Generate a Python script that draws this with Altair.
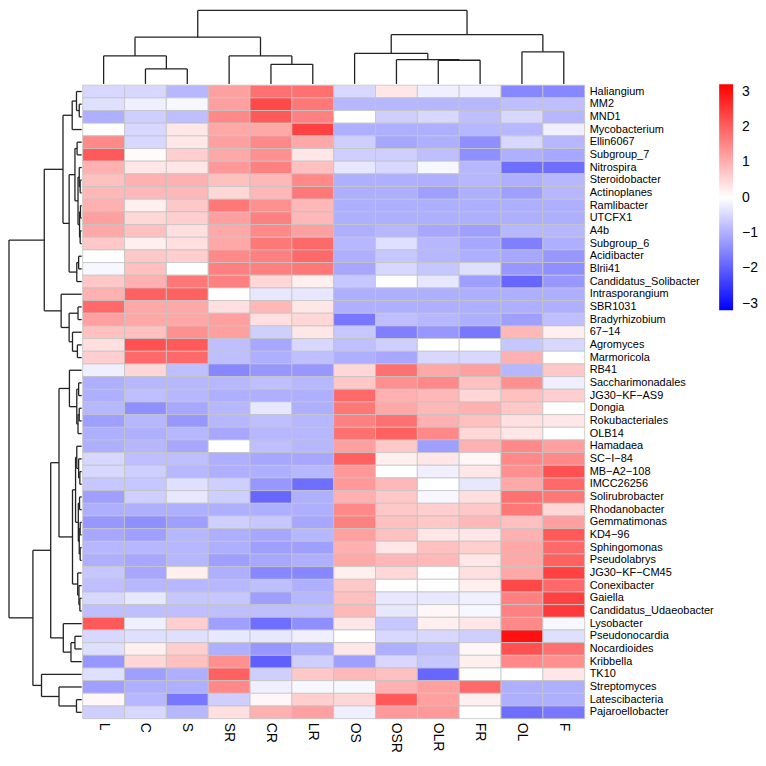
import altair as alt
import pandas as pd

columns = ["L", "C", "S", "SR", "CR", "LR", "OS", "OSR", "OLR", "FR", "OL", "F"]
genera = ["Haliangium", "MM2", "MND1", "Mycobacterium", "Ellin6067", "Subgroup_7",
          "Nitrospira", "Steroidobacter", "Actinoplanes", "Ramlibacter", "UTCFX1", "A4b",
          "Subgroup_6", "Acidibacter", "Blrii41", "Candidatus_Solibacter", "Intrasporangium",
          "SBR1031", "Bradyrhizobium", "67\u221214", "Agromyces", "Marmoricola", "RB41",
          "Saccharimonadales", "JG30\u2212KF\u2212AS9", "Dongia", "Rokubacteriales", "OLB14",
          "Hamadaea", "SC\u2212I\u221284", "MB\u2212A2\u2212108", "IMCC26256", "Solirubrobacter",
          "Rhodanobacter", "Gemmatimonas", "KD4\u221296", "Sphingomonas", "Pseudolabrys",
          "JG30\u2212KF\u2212CM45", "Conexibacter", "Gaiella", "Candidatus_Udaeobacter",
          "Lysobacter", "Pseudonocardia", "Nocardioides", "Kribbella", "TK10", "Streptomyces",
          "Latescibacteria", "Pajaroellobacter"]

# z-scores per genus, one list per sample column (rows in genera order)
z_L = [-0.5, -0.4, -1.0, 0.0, 1.5, 2.1, 1.0, 0.8, 0.9, 1.0, 1.2, 1.1, 0.7, 0.0, -0.1, 0.7,
       1.0, 1.9, 1.2, 0.8, 0.4, 0.6, -0.2, -1.0, -1.0, -0.9, -1.2, -1.0, -1.0, -0.5, -0.5,
       -0.7, -1.2, -1.0, -1.3, -1.1, -0.9, -1.0, -0.7, -0.8, -0.5, -0.8, 2.1, -0.5, -0.4,
       -1.3, -0.4, -1.2, 0.1, -0.6]
z_C = [-0.5, -0.2, -0.6, -0.5, -0.5, 0.05, 0.3, 1.0, 0.9, 0.2, 0.5, 0.8, 0.2, 0.7, 0.8, 1.0,
       2.0, 1.1, 1.1, 0.8, 2.2, 1.9, 0.5, -0.9, -0.8, -1.4, -0.9, -1.0, -0.9, -0.8, -0.6,
       -0.7, -0.6, -1.0, -1.4, -1.2, -0.9, -1.1, -1.1, -0.9, -0.3, -0.8, -0.2, -0.4, 0.2,
       0.5, -1.2, -1.0, -0.9, -0.5]
z_S = [-0.9, -0.1, -0.8, 0.3, 0.3, 0.6, 0.3, 1.0, 0.9, 0.7, 0.6, 0.4, 0.4, 0.6, 0.0, 1.7,
       2.0, 1.1, 1.1, 1.4, 2.1, 1.9, -0.8, -0.9, -0.9, -1.1, -1.3, -0.9, -1.1, -0.8, -0.9,
       -0.4, -0.3, -1.0, -1.2, -0.9, -0.9, -0.9, 0.2, -0.9, -0.7, -0.8, 0.6, -0.4, 0.6,
       0.8, -1.0, -1.0, -1.7, -0.9]
z_SR = [1.2, 1.2, 1.5, 1.1, 1.2, 1.1, 1.3, 0.8, 0.5, 1.7, 1.2, 1.1, 1.1, 1.5, 1.6, 1.6,
        0.0, 0.4, 1.2, 1.2, -0.8, -0.8, -1.5, -0.9, -1.0, -0.9, -0.9, -1.1, 0.0, -1.0, -1.0,
        -0.6, -0.6, -1.0, -0.6, -1.0, -1.0, -1.2, -1.0, -0.9, -0.7, -0.8, -1.2, -0.3, -1.0,
        1.4, 2.0, 1.5, -0.6, 0.4]
z_CR = [1.8, 2.3, 2.1, 1.1, 1.5, 1.4, 1.6, 0.9, 0.9, 1.4, 1.6, 1.5, 1.7, 1.6, 1.6, 0.5,
        -0.3, 0.9, 0.4, -0.6, -1.1, -1.0, -1.3, -0.8, -1.0, -0.3, -0.8, -0.9, -0.8, -1.1,
        -1.0, -1.3, -1.9, -1.0, -0.7, -1.1, -1.2, -1.1, -1.5, -0.8, -1.2, -0.8, -1.8, -0.3,
        -1.3, -2.0, -0.6, -0.2, 0.1, 1.0]
z_LR = [1.8, 1.7, 1.6, 2.4, 1.1, 0.3, 0.8, 1.5, 1.7, 0.9, 0.9, 1.2, 1.9, 1.9, 1.7, 0.2,
        -0.3, 0.3, 0.5, 0.3, -0.5, -0.8, -1.3, -0.9, -1.0, -1.0, -0.9, -0.9, -0.9, -1.1,
        -0.9, -1.8, -1.0, -1.0, -1.1, -0.9, -1.2, -1.0, -1.5, -1.0, -0.9, -0.8, -1.4, -0.2,
        -1.0, -0.6, 0.7, -0.1, 0.6, 1.2]
z_OS = [-0.5, -0.9, 0.0, -1.0, -0.6, -0.6, -0.3, -1.0, -1.0, -1.0, -1.0, -1.0, -0.9, -1.0,
        -1.1, -0.7, -1.0, -1.0, -1.7, -0.7, -0.8, -1.0, 0.5, 0.7, 1.9, 1.7, 1.6, 1.8, 1.2,
        2.0, 1.3, 1.3, 1.0, 1.5, 1.6, 1.2, 1.0, 1.1, 0.2, 0.7, 0.8, 0.9, 0.3, 0.0, 0.3,
        -1.2, 0.9, -0.1, 0.5, -0.2]
z_OSR = [0.3, -0.9, -0.6, -1.0, -1.1, -0.6, -0.5, -1.0, -1.0, -1.0, -1.0, -0.9, -0.4, -0.7,
         -0.5, 0.0, -1.0, -1.0, -0.8, -1.6, -0.6, -1.1, 1.8, 1.4, 1.0, 1.1, 1.8, 2.0, 0.7,
         0.2, 0.0, 0.9, 0.7, 0.7, 0.8, 0.8, 0.3, 0.9, 0.5, 0.0, -0.3, -0.3, -0.7, -0.5,
         -1.0, -0.5, 0.8, 1.0, 2.1, 1.3]
z_OLR = [-0.2, -0.9, -0.5, -1.0, -1.0, -0.8, -0.1, -1.0, -1.2, -1.0, -1.0, -1.1, -0.9, -0.9,
         -0.7, -0.3, -1.0, -1.0, -0.9, -1.3, 0.0, -0.5, 1.1, 1.5, 0.9, 0.9, 1.0, 1.5, -1.2,
         0.3, -0.2, 0.0, -0.1, 0.6, 0.7, 0.3, 0.8, 0.9, 0.0, 0.0, -0.3, 0.1, 0.2, -0.5,
         -0.8, -0.7, -1.9, 1.2, 1.2, 1.3]
z_FR = [-0.2, -0.9, -0.8, -0.9, -1.4, -1.4, -0.9, -0.9, -1.0, -1.0, -1.0, -1.2, -1.1, -1.0,
        -0.4, -1.2, -1.0, -1.0, -1.0, -1.7, 0.0, -0.5, 1.2, 0.8, 0.5, 1.0, 0.8, 0.5, 1.0,
        0.1, 0.3, -0.3, 0.4, 0.7, 0.9, 0.3, 0.6, 0.3, 0.4, 0.2, -0.2, -0.1, 0.3, -0.6, 0.1,
        0.2, 0.0, 1.9, 0.2, 0.0]
z_OL = [-1.5, -0.8, -0.5, -0.9, -0.5, -1.0, -1.8, -1.0, -1.2, -1.0, -1.0, -0.9, -1.6, -1.1,
        -1.3, -1.9, -1.0, -1.0, -1.2, 0.9, -0.7, 1.0, -0.9, 1.4, 0.8, 0.7, 0.4, 0.3, 1.5,
        1.5, 1.4, 1.1, 1.8, 1.7, 0.8, 1.0, 1.1, 1.1, 1.1, 2.3, 1.6, 1.6, 1.5, 3.0, 2.2,
        1.5, 0.0, -1.0, -1.0, -1.8]
z_F = [-1.5, -0.8, -0.9, -0.2, -0.9, -1.1, -1.8, -0.9, -0.9, -1.0, -1.0, -0.9, -1.0, -1.3,
       -1.4, -1.3, -1.0, -1.0, -0.8, 0.2, -0.5, 0.0, 0.7, -0.2, 0.6, 0.0, 0.3, 0.0, 1.2,
       1.5, 2.2, 1.9, 1.7, 0.5, 1.2, 2.1, 1.9, 2.0, 2.4, 1.9, 2.4, 2.5, -0.1, -0.4, 1.8,
       1.4, 0.3, -1.0, -1.0, -1.7]

z_cols = [z_L, z_C, z_S, z_SR, z_CR, z_LR, z_OS, z_OSR, z_OLR, z_FR, z_OL, z_F]

# dendrograms: (left, right, merge height); leaves are positions in the display order
col_tree = (((0, (1, 2, 48), 90), (3, (4, 5, 63), 90), 150),
            ((6, (7, (8, 9, 76), 78), 98), (10, 11, 103), 158), 236)

row_tree = (
    (
        (((0, (1, 2, 8), 17), 3, 31),
         (((4, 5, 15), ((6, (7, 8, 5), 8), ((9, 10, 4), (11, 12, 5), 7), 12), 22),
          ((13, 14, 10), 15, 16), 41), 61),
        (16, ((17, 18, 12), (19, (20, 21, 14), 30), 41), 67),
        122),
    (
        (((22, ((23, 24, 10), ((25, 26, 8), 27, 12), 16), 40),
          (((28, (29, (30, 31, 6), 10), 16),
            ((32, 33, 7), ((34, 35, 5), (36, 37, 5), 8), 11), 20),
           (38, (39, (40, 41, 6), 9), 13), 30), 74),
         (42, ((43, 44, 22), 45, 35), 60), 101),
        (46, (47, (48, 49, 17), 74), 131),
        159),
    237)


def layout(node):
    if isinstance(node, int):
        return node + 0.5, 0.0, []
    a, b, h = node
    pa, ha, sa = layout(a)
    pb, hb, sb = layout(b)
    segs = sa + sb + [(pa, ha, pa, h), (pb, hb, pb, h), (pa, h, pb, h)]
    return (pa + pb) / 2, h, segs


n_rows, n_cols = len(genera), len(columns)

cells = []
for ci, col in enumerate(columns):
    for ri, g in enumerate(genera):
        cells.append({"col": col, "genus": g, "x0": ci, "x1": ci + 1,
                      "y0": ri, "y1": ri + 1, "value": z_cols[ci][ri]})
cells = pd.DataFrame(cells)

_, col_root, col_segs = layout(col_tree)
top = pd.DataFrame([{"x": p1, "x2": p2, "y": -0.1 - h1 / col_root * 5.8,
                     "y2": -0.1 - h2 / col_root * 5.8} for p1, h1, p2, h2 in col_segs])
_, row_root, row_segs = layout(row_tree)
left = pd.DataFrame([{"y": p1, "y2": p2, "x": -0.024 - h1 / row_root * 1.738,
                      "x2": -0.024 - h2 / row_root * 1.738} for p1, h1, p2, h2 in row_segs])

row_lab = pd.DataFrame({"genus": genera, "y": [i + 0.5 for i in range(n_rows)],
                        "x": [n_cols] * n_rows})
col_lab = pd.DataFrame({"col": columns, "x": [i + 0.5 for i in range(n_cols)],
                        "y": [n_rows] * n_cols})

xs = alt.Scale(domain=[-75 / 42, n_cols], nice=False, zero=False)
ys = alt.Scale(domain=[-76 / 12.72, n_rows], nice=False, zero=False, reverse=True)

heat = alt.Chart(cells).mark_rect(stroke="#C4C4C4", strokeWidth=0.8).encode(
    x=alt.X("x0:Q", scale=xs, axis=None),
    x2="x1:Q",
    y=alt.Y("y0:Q", scale=ys, axis=None),
    y2="y1:Q",
    color=alt.Color("value:Q", title=None,
                    scale=alt.Scale(domain=[-3.19, 0, 3.22],
                                    range=["#0000FF", "#FFFFFF", "#FF0000"],
                                    interpolate="rgb"),
                    legend=alt.Legend(orient="none", legendX=714, legendY=75,
                                      direction="vertical", gradientLength=227,
                                      gradientThickness=14, gradientStrokeWidth=0,
                                      values=[3, 2, 1, 0, -1, -2, -3],
                                      labelFontSize=14, labelFont="Liberation Sans",
                                      labelColor="#000000", labelOffset=9)),
)

top_tree = alt.Chart(top).mark_rule(color="#222222", strokeWidth=1.3).encode(
    x=alt.X("x:Q", scale=xs, axis=None), x2="x2:Q",
    y=alt.Y("y:Q", scale=ys, axis=None), y2="y2:Q")

left_tree = alt.Chart(left).mark_rule(color="#222222", strokeWidth=1.3).encode(
    x=alt.X("x:Q", scale=xs, axis=None), x2="x2:Q",
    y=alt.Y("y:Q", scale=ys, axis=None), y2="y2:Q")

row_text = alt.Chart(row_lab).mark_text(
    align="left", baseline="middle", dx=5, fontSize=11, font="Liberation Sans",
    color="#000000").encode(
    x=alt.X("x:Q", scale=xs, axis=None), y=alt.Y("y:Q", scale=ys, axis=None),
    text="genus:N")

col_text = alt.Chart(col_lab).mark_text(
    align="left", baseline="middle", angle=90, dx=4, fontSize=14,
    font="Liberation Sans", color="#000000").encode(
    x=alt.X("x:Q", scale=xs, axis=None), y=alt.Y("y:Q", scale=ys, axis=None),
    text="col:N")

chart = alt.layer(heat, top_tree, left_tree, row_text, col_text).properties(
    width=579, height=712, padding=0, background="white"
).configure_view(stroke=None)

chart.save("out.html", embed_options={"renderer": "svg", "actions": False})
